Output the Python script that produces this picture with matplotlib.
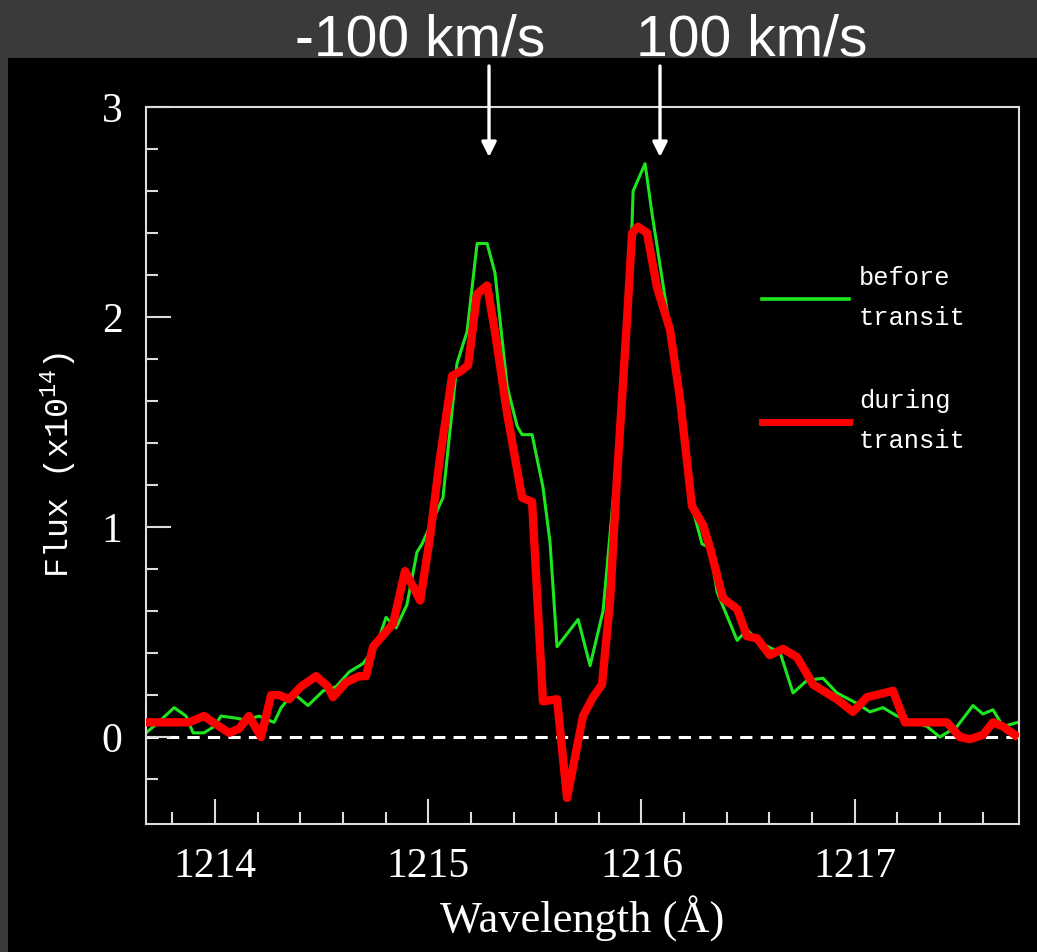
import matplotlib
matplotlib.use("Agg")
import matplotlib.pyplot as plt
from matplotlib.patches import Rectangle
from matplotlib.lines import Line2D
from matplotlib.ticker import MultipleLocator, FixedLocator
import matplotlib.transforms as mtransforms

# ---------------- data ----------------
before_wl = [1213.676, 1213.723, 1213.808, 1213.864, 1213.897, 1213.948, 1213.995, 1214.028,
             1214.099, 1214.145, 1214.206, 1214.277, 1214.310, 1214.366, 1214.436, 1214.507,
             1214.568, 1214.629, 1214.694, 1214.755, 1214.802, 1214.849, 1214.886, 1214.900,
             1214.947, 1214.971, 1215.069, 1215.135, 1215.182, 1215.229, 1215.276, 1215.313,
             1215.370, 1215.417, 1215.440, 1215.487, 1215.538, 1215.571, 1215.604, 1215.703,
             1215.759, 1215.820, 1215.886, 1215.932, 1215.956, 1215.961, 1216.017, 1216.050,
             1216.111, 1216.134, 1216.181, 1216.237, 1216.284, 1216.322, 1216.355, 1216.449,
             1216.495, 1216.557, 1216.651, 1216.711, 1216.777, 1216.852, 1216.917, 1217.011,
             1217.072, 1217.133, 1217.199, 1217.340, 1217.400, 1217.480, 1217.555, 1217.602,
             1217.649, 1217.696, 1217.766]
before_flux = [0.02, 0.06, 0.14, 0.10, 0.02, 0.02, 0.05, 0.10,
               0.09, 0.08, 0.10, 0.07, 0.14, 0.21, 0.15, 0.22,
               0.24, 0.31, 0.35, 0.43, 0.57, 0.52, 0.60, 0.63,
               0.88, 0.92, 1.14, 1.78, 1.93, 2.35, 2.35, 2.21,
               1.67, 1.48, 1.44, 1.44, 1.19, 0.93, 0.43, 0.56,
               0.34, 0.60, 1.34, 1.98, 2.45, 2.60, 2.73, 2.49,
               2.09, 1.94, 1.61, 1.10, 0.92, 0.90, 0.69, 0.46,
               0.51, 0.45, 0.40, 0.21, 0.27, 0.28, 0.21, 0.16,
               0.12, 0.14, 0.10, 0.05, 0.00, 0.05, 0.15, 0.11,
               0.13, 0.05, 0.07]

during_wl = [1213.676, 1213.737, 1213.803, 1213.878, 1213.948, 1213.991, 1214.066, 1214.113,
             1214.159, 1214.216, 1214.263, 1214.300, 1214.347, 1214.403, 1214.474, 1214.530,
             1214.553, 1214.614, 1214.675, 1214.708, 1214.741, 1214.835, 1214.891, 1214.962,
             1215.008, 1215.055, 1215.112, 1215.149, 1215.187, 1215.229, 1215.276, 1215.313,
             1215.370, 1215.440, 1215.487, 1215.538, 1215.604, 1215.651, 1215.726, 1215.773,
             1215.815, 1215.853, 1215.886, 1215.932, 1215.956, 1215.984, 1216.026, 1216.073,
             1216.134, 1216.181, 1216.237, 1216.289, 1216.322, 1216.383, 1216.449, 1216.495,
             1216.542, 1216.602, 1216.664, 1216.730, 1216.805, 1216.917, 1216.992, 1217.058,
             1217.180, 1217.236, 1217.354, 1217.433, 1217.494, 1217.541, 1217.602, 1217.649,
             1217.696, 1217.752]
during_flux = [0.07, 0.07, 0.07, 0.07, 0.10, 0.07, 0.02, 0.04,
               0.10, 0.00, 0.20, 0.20, 0.18, 0.24, 0.29, 0.24,
               0.19, 0.26, 0.29, 0.29, 0.43, 0.54, 0.79, 0.65,
               0.95, 1.33, 1.72, 1.74, 1.77, 2.11, 2.15, 1.93,
               1.54, 1.14, 1.12, 0.17, 0.18, -0.29, 0.10, 0.19,
               0.25, 0.65, 1.25, 1.98, 2.40, 2.43, 2.40, 2.14,
               1.94, 1.61, 1.10, 1.01, 0.90, 0.66, 0.61, 0.48,
               0.47, 0.39, 0.42, 0.38, 0.25, 0.18, 0.12, 0.19,
               0.22, 0.07, 0.07, 0.07, 0.00, -0.01, 0.01, 0.07,
               0.05, 0.01]

series_labels = ["before\ntransit", "during\ntransit"]
arrow_wavelengths = [1215.285, 1216.087]
arrow_labels = ["-100 km/s", "100 km/s"]
x_ticks = [1214, 1215, 1216, 1217]
y_ticks = [0, 1, 2, 3]
y_minor_ticks = [-0.2, 0.2, 0.4, 0.6, 0.8, 1.2, 1.4, 1.6, 1.8, 2.2, 2.4, 2.6, 2.8]

# ---------------- styling ----------------
plt.rcParams['mathtext.fontset'] = 'custom'
plt.rcParams['mathtext.rm'] = 'Liberation Mono'
plt.rcParams['mathtext.it'] = 'Liberation Mono'

W, H = 1037, 952
fig = plt.figure(figsize=(W / 100, H / 100), dpi=100)
fig.patch.set_facecolor('#3a3a3a')
fig.patches.append(Rectangle((8 / W, 0), 1 - 8 / W, 1 - 58 / H, transform=fig.transFigure,
                             facecolor='black', edgecolor='none', zorder=-10))

ax = fig.add_axes([146 / W, 1 - 824 / H, (1019 - 146) / W, (824 - 107) / H])
ax.set_zorder(1)
ax.set_facecolor('black')

green = '#1ee61e'
red = '#ff0000'
axcol = '#dcdcdc'

ax.axhline(0, color='white', lw=2.2, ls=(0, (4, 2.7)), zorder=1)
ax.plot(before_wl, before_flux, color=green, lw=2.2, zorder=2, solid_joinstyle='round')
ax.plot(during_wl, during_flux, color=red, lw=6.0, zorder=3, solid_joinstyle='round')

ax.set_xlim(1213.676, 1217.771)
ax.set_ylim(-0.414, 3.0)

ax.set_xticks(x_ticks)
ax.set_yticks(y_ticks)
ax.xaxis.set_minor_locator(MultipleLocator(0.2))
ax.yaxis.set_minor_locator(FixedLocator(y_minor_ticks))
ax.tick_params(which='both', direction='in', colors=axcol, top=False, right=False,
               labelcolor='white', width=1.5)
ax.tick_params(which='major', length=18, pad=17)
ax.tick_params(which='minor', length=8.5)
for lab in ax.get_xticklabels() + ax.get_yticklabels():
    lab.set_fontfamily('Liberation Serif')
    lab.set_fontsize(30)
for sp in ax.spines.values():
    sp.set_color(axcol)
    sp.set_linewidth(1.5)

ax.set_xlabel('Wavelength (Å)', fontfamily='Liberation Serif', fontsize=32, color='white',
              labelpad=7)
ax.set_ylabel(r'Flux (x10$^{\mathrm{14}}$)', fontfamily='Liberation Mono', fontsize=24,
              color='white', labelpad=16)

handles = [Line2D([], [], color=green, lw=2.6), Line2D([], [], color=red, lw=5.0)]
leg = ax.legend(handles, series_labels, loc='upper left', bbox_to_anchor=(0.7056, 0.778),
                frameon=False, borderaxespad=0, borderpad=0, handlelength=3.4,
                handletextpad=0.4, labelspacing=2.3,
                prop={'family': 'Liberation Mono', 'size': 18.4})
for t in leg.get_texts():
    t.set_color('white')
    t.set_linespacing(1.85)

# arrows and velocity labels above the plot
trans = mtransforms.blended_transform_factory(ax.transData, fig.transFigure)
for wl in arrow_wavelengths:
    ax.annotate('', xy=(wl, 1 - 157 / H), xytext=(wl, 1 - 66 / H),
                xycoords=trans, textcoords=trans, annotation_clip=False,
                arrowprops=dict(arrowstyle='-|>', color='white', lw=2.4,
                                mutation_scale=22, shrinkA=0, shrinkB=0))
label_x = [420 / W, 752 / W]
for lx, txt in zip(label_x, arrow_labels):
    fig.text(lx, 1 - 55 / H, txt, ha='center', va='baseline', color='white',
             fontfamily='Liberation Sans', fontsize=41)

fig.savefig('out.png', dpi=100, facecolor=fig.get_facecolor())
